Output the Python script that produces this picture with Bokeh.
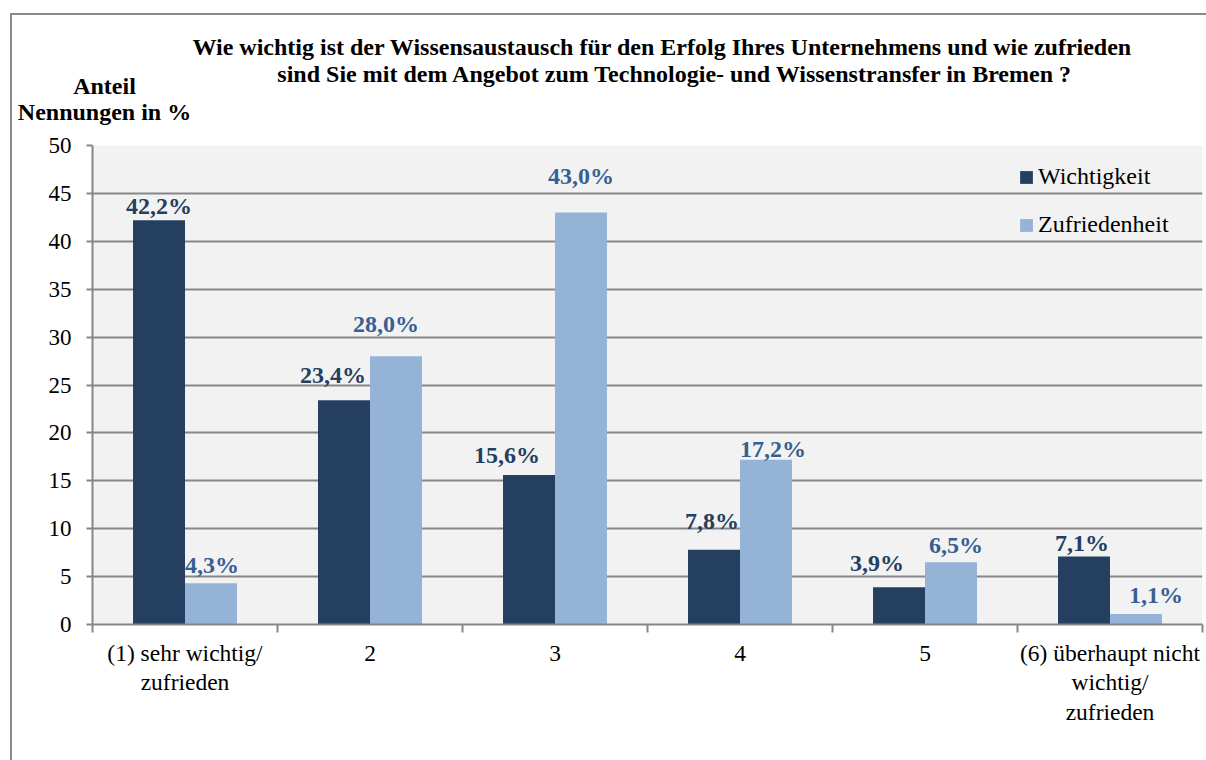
import numpy as np
from bokeh.plotting import figure
from bokeh.models import (ColumnDataSource, Range1d, FixedTicker, Legend, LegendItem, Label)
from bokeh.transform import dodge
from bokeh.embed import file_html
from bokeh.resources import INLINE
from bokeh.core.properties import value

# ---------------- data ----------------
categories = ["(1) sehr wichtig/\nzufrieden", "2", "3", "4", "5",
              "(6) überhaupt nicht\nwichtig/\nzufrieden"]
wichtigkeit = [42.2, 23.4, 15.6, 7.8, 3.9, 7.1]
zufriedenheit = [4.3, 28.0, 43.0, 17.2, 6.5, 1.1]
wicht_labels = ["42,2%", "23,4%", "15,6%", "7,8%", "3,9%", "7,1%"]
zufr_labels = ["4,3%", "28,0%", "43,0%", "17,2%", "6,5%", "1,1%"]
y_ticks = list(range(0, 51, 5))
title_lines = ["Wie wichtig ist der Wissensaustausch für den Erfolg Ihres Unternehmens und wie zufrieden",
               "sind Sie mit dem Angebot zum Technologie- und Wissenstransfer in Bremen ?"]
ytitle_lines = ["Anteil", "Nennungen in %"]

# label placement tweaks (pixels)
wicht_dx = [0, -11, -22, -2, -22, -2]
wicht_gap = [7, 18, 13, 22, 17, 6]
zufr_dx = [1, -10, 0, 7, 5, 20]
zufr_gap = [11, 25, 30, 4, 10, 12]
BASE_FIX = 7  # alphabetic-baseline correction

FONT = "Liberation Serif"
DARK = "#253F60"
LIGHT = "#95B3D7"
DARK_TXT = "#243F60"
LIGHT_TXT = "#376092"
GRID = "#868686"
FRAME_GREY = "#898989"

n = len(categories)
xpos = np.arange(n) + 0.5
src = ColumnDataSource(dict(
    x=xpos, w=wichtigkeit, z=zufriedenheit,
    wl=wicht_labels, zl=zufr_labels,
    wdx=wicht_dx, wdy=[-(g + BASE_FIX) for g in wicht_gap],
    zdx=zufr_dx, zdy=[-(g + BASE_FIX) for g in zufr_gap],
))

p = figure(width=1206, height=760, frame_width=1110, frame_height=479,
           min_border_left=92, min_border_right=4, min_border_top=145, min_border_bottom=136,
           x_range=Range1d(0, n), y_range=Range1d(0, 50),
           output_backend="svg", toolbar_location=None)
p.background_fill_color = "#F2F2F2"
p.border_fill_alpha = 0
p.outline_line_color = None
# outer chart border (left / top edges visible), drawn behind the transparent canvas border
p.styles = {
    "background": (f"linear-gradient({FRAME_GREY},{FRAME_GREY}) 10px 13px / 2px 100% no-repeat, "
                   f"linear-gradient({FRAME_GREY},{FRAME_GREY}) 10px 13px / 100% 2px no-repeat, white"),
}

bw = 0.281
off = bw / 2
r1 = p.vbar(x=dodge("x", -off, range=p.x_range), top="w", width=bw, source=src,
            fill_color=DARK, line_color=None)
r2 = p.vbar(x=dodge("x", off, range=p.x_range), top="z", width=bw, source=src,
            fill_color=LIGHT, line_color=None)

LBL_SIZE = "24px"
p.text(x=dodge("x", -off, range=p.x_range), y="w", text="wl", source=src,
       x_offset="wdx", y_offset="wdy", text_align="center", text_baseline="alphabetic",
       text_font=value(FONT), text_font_style="bold", text_font_size=LBL_SIZE,
       text_color=DARK_TXT)
p.text(x=dodge("x", off, range=p.x_range), y="z", text="zl", source=src,
       x_offset="zdx", y_offset="zdy", text_align="center", text_baseline="alphabetic",
       text_font=value(FONT), text_font_style="bold", text_font_size=LBL_SIZE,
       text_color=LIGHT_TXT)

# axes
p.xgrid.grid_line_color = None
p.ygrid.grid_line_color = GRID
p.ygrid.grid_line_width = 2
p.ygrid.ticker = FixedTicker(ticks=y_ticks)

yax = p.yaxis[0]
yax.ticker = FixedTicker(ticks=y_ticks)
yax.axis_line_color = GRID
yax.axis_line_width = 2
yax.major_tick_line_color = GRID
yax.major_tick_line_width = 2
yax.major_tick_in = 0
yax.major_tick_out = 6
yax.minor_tick_line_color = None
yax.major_label_text_font = FONT
yax.major_label_text_font_size = "23px"
yax.major_label_text_color = "black"
yax.major_label_standoff = 15

xax = p.xaxis[0]
xax.ticker = FixedTicker(ticks=list(xpos), minor_ticks=list(range(n + 1)))
xax.major_label_overrides = {float(x): c for x, c in zip(xpos, categories)}
xax.axis_line_color = GRID
xax.axis_line_width = 2
xax.major_tick_line_color = None
xax.minor_tick_line_color = GRID
xax.minor_tick_line_width = 2
xax.minor_tick_in = 0
xax.minor_tick_out = 8
xax.major_label_text_font = FONT
xax.major_label_text_font_size = "23.5px"
xax.major_label_text_line_height = 1.15
xax.major_label_text_color = "black"
xax.major_label_standoff = 7

# legend
legend = Legend(items=[LegendItem(label="Wichtigkeit", renderers=[r1]),
                       LegendItem(label="Zufriedenheit", renderers=[r2])],
                location=(926, 386), orientation="vertical",
                background_fill_alpha=0, border_line_color=None,
                padding=0, margin=0, spacing=21, label_height=26,
                glyph_width=16, glyph_height=16, label_standoff=4,
                label_text_font=FONT, label_text_font_size="24px",
                label_text_color="black")
p.add_layout(legend)

# title and y-axis title (placed in the top panel so they are not clipped)
TSZ = "24px"
for txt, cx, base in [(title_lines[0], 662, 53), (title_lines[1], 675, 80),
                      (ytitle_lines[0], 104, 92), (ytitle_lines[1], 104, 118)]:
    p.add_layout(Label(x=0, y=50, x_offset=cx - 92, y_offset=145 - base + BASE_FIX, text=txt,
                       text_align="center", text_baseline="alphabetic",
                       text_font=FONT, text_font_style="bold", text_font_size=TSZ,
                       text_color="black"), "above")

open("out.html", "w").write(file_html(p, INLINE))
